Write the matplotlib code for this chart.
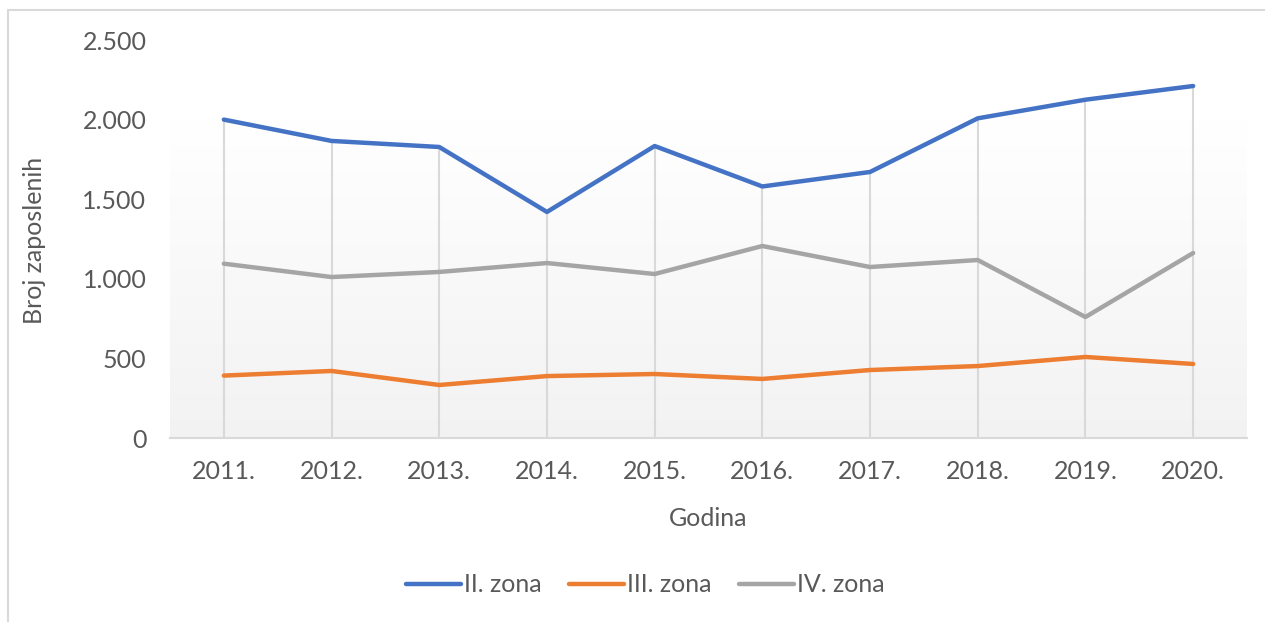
import matplotlib
matplotlib.use("Agg")
import matplotlib.pyplot as plt
import numpy as np
from matplotlib.patches import Rectangle
from matplotlib.ticker import FuncFormatter

years = ["2011.", "2012.", "2013.", "2014.", "2015.", "2016.", "2017.", "2018.", "2019.", "2020."]
zona_ii = [2000, 1866, 1828, 1420, 1834, 1580, 1671, 2008, 2125, 2211]
zona_iii = [392, 421, 333, 389, 402, 371, 427, 452, 509, 465]
zona_iv = [1095, 1011, 1043, 1099, 1030, 1206, 1074, 1118, 760, 1162]
series_names = ["II. zona", "III. zona", "IV. zona"]
colors = ["#4472C4", "#ED7D31", "#A5A5A5"]

plt.rcParams['font.family'] = ['Lato', 'DejaVu Sans']
W, H = 1265, 622
fig = plt.figure(figsize=(W / 100, H / 100), dpi=100)
fig.patch.set_facecolor("white")

fig.add_artist(Rectangle((8 / W, -0.05), 1.1, 1 - 10 / H + 0.05, transform=fig.transFigure,
                         fill=False, edgecolor="#d9d9d9", linewidth=1.5))

left, right, bottom, top = 170, 1247, 438, 40
ax = fig.add_axes([left / W, 1 - bottom / H, (right - left) / W, (bottom - top) / H])
ax.set_facecolor("none")

x = np.arange(len(years))

# gradient plot-area fill
grad = np.linspace(1.0, 0.95, 256).reshape(-1, 1)
ax.imshow(np.dstack([grad, grad, grad]), extent=(-0.5, len(years) - 0.5, 0, 1990),
          aspect="auto", zorder=0, interpolation="bicubic")
ax.set_xlim(-0.5, len(years) - 0.5)
ax.set_ylim(0, 2500)

# drop lines
tops = np.max(np.vstack([zona_ii, zona_iii, zona_iv]), axis=0)
ax.vlines(x, 0, tops, color="#d9d9d9", linewidth=1.5, zorder=1)

for vals, name, c in zip([zona_ii, zona_iii, zona_iv], series_names, colors):
    ax.plot(x, vals, color=c, linewidth=3.2, label=name, zorder=3,
            solid_capstyle="round", solid_joinstyle="round")

for s in ["top", "right", "left"]:
    ax.spines[s].set_visible(False)
ax.spines["bottom"].set_color("#d9d9d9")
ax.spines["bottom"].set_linewidth(1.5)
ax.spines["bottom"].set_zorder(2)

fs = 18
ax.set_xticks(x)
ax.set_xticklabels(years)
ax.set_yticks(np.arange(0, 2501, 500))
ax.yaxis.set_major_formatter(FuncFormatter(lambda v, p: f"{int(v):,}".replace(",", ".")))
ax.tick_params(axis="both", length=0, labelsize=fs, labelcolor="#595959")
ax.tick_params(axis="y", pad=17)
ax.tick_params(axis="x", pad=16)

ax.set_xlabel("Godina", fontsize=fs, color="#595959", labelpad=17)
fig.text(35 / W, 1 - 240 / H, "Broj zaposlenih", rotation=90, ha="center", va="center",
         fontsize=fs, color="#595959")

leg = fig.legend(loc="center", bbox_to_anchor=(645 / W, 1 - 585 / H), ncol=3, frameon=False,
                 fontsize=fs, handlelength=2.2, handletextpad=0.12, columnspacing=1.1,
                 labelcolor="#595959")

fig.savefig("out.png", dpi=100)
